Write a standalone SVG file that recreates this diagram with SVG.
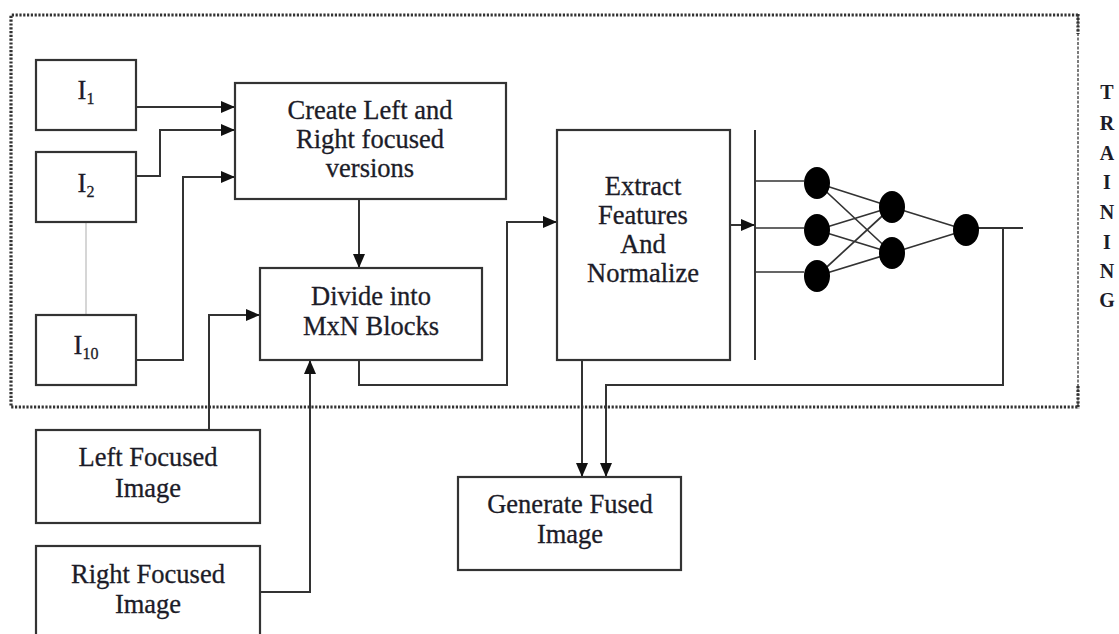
<svg xmlns="http://www.w3.org/2000/svg" width="1119" height="634" viewBox="0 0 1119 634">
  <style>
    .box { fill: #fff; stroke: #333; stroke-width: 2.2; }
    .wire { fill: none; stroke: #333; stroke-width: 2; }
    .thin { fill: none; stroke: #333; stroke-width: 1.7; }
    .lbl { font-family: "Liberation Serif", "Times New Roman", serif; font-size: 26.5px; fill: #1c1c28; stroke: #1c1c28; stroke-width: 0.3; text-anchor: middle; }
    .sub { font-size: 16px; }
    .train { font-family: "Liberation Serif", "Times New Roman", serif; font-size: 20px; font-weight: bold; fill: #1c1c28; text-anchor: middle; }
    .neuron { fill: #000; }
  </style>
  <defs>
    <marker id="arrow" viewBox="0 0 14 12" refX="14" refY="6" markerWidth="14" markerHeight="12" markerUnits="userSpaceOnUse" orient="auto">
      <path d="M0,0 L14,6 L0,12 Z" fill="#111"/>
    </marker>
  </defs>
  <rect width="1119" height="634" fill="#fff"/>

  <!-- training boundary -->
  <g id="training-frame">
    <path d="M1078,15 L11,15 L11,407 L1078,407" fill="none" stroke="#333" stroke-width="3.2" stroke-dasharray="2.2 1.6"/>
    <path d="M1078,15 L1078,407" fill="none" stroke="#444" stroke-width="1.4" stroke-dasharray="3 1.5"/>
    <path d="M1078,14 L1078,34 M1078,386 L1078,409" fill="none" stroke="#333" stroke-width="3.2" stroke-dasharray="2.2 1.6"/>
    <text class="train" x="1107" y="99">T</text>
    <text class="train" x="1107" y="130">R</text>
    <text class="train" x="1107" y="160">A</text>
    <text class="train" x="1107" y="189">I</text>
    <text class="train" x="1107" y="219">N</text>
    <text class="train" x="1107" y="249">I</text>
    <text class="train" x="1107" y="278">N</text>
    <text class="train" x="1107" y="307">G</text>
  </g>

  <!-- connectors -->
  <g id="connectors">
    <line x1="86" y1="222" x2="86" y2="315" stroke="#bbb" stroke-width="1.2"/>
    <path class="wire" d="M136,107 L235,107" marker-end="url(#arrow)"/>
    <path class="wire" d="M136,176 L160,176 L160,130 L235,130" marker-end="url(#arrow)"/>
    <path class="wire" d="M136,360 L183,360 L183,177 L235,177" marker-end="url(#arrow)"/>
    <path class="wire" d="M359,199 L359,268" marker-end="url(#arrow)"/>
    <path class="wire" d="M209,430 L209,315 L260,315" marker-end="url(#arrow)"/>
    <path class="wire" d="M260,592 L310,592 L310,360" marker-end="url(#arrow)"/>
    <path class="wire" d="M359,360 L359,385 L507,385 L507,222 L557,222" marker-end="url(#arrow)"/>
    <path class="wire" d="M730,225 L755,225" marker-end="url(#arrow)"/>
    <path class="wire" d="M582,360 L582,477" marker-end="url(#arrow)"/>
    <path class="wire" d="M1023,228 L966,228 M1003,228 L1003,385 L606,385 L606,477" marker-end="url(#arrow)"/>
  </g>

  <!-- neural network -->
  <g id="network">
    <line class="wire" x1="755" y1="130" x2="755" y2="360"/>
    <path class="thin" d="M755,181 L804,181 M755,228 L804,228 M755,272 L804,272"/>
    <path class="thin" d="M817,183 L892,207 M817,183 L892,253 M817,230 L892,207 M817,230 L892,253 M817,276 L892,207 M817,276 L892,253 M892,207 L966,230 M892,253 L966,230"/>
    <ellipse class="neuron" cx="817" cy="183" rx="13" ry="16"/>
    <ellipse class="neuron" cx="817" cy="230" rx="13" ry="16"/>
    <ellipse class="neuron" cx="817" cy="276" rx="13" ry="16"/>
    <ellipse class="neuron" cx="892" cy="207" rx="13" ry="16"/>
    <ellipse class="neuron" cx="892" cy="253" rx="13" ry="16"/>
    <ellipse class="neuron" cx="966" cy="230" rx="13" ry="16"/>
  </g>

  <g id="node-i1">
    <rect class="box" x="36" y="60" width="100" height="70"/>
    <text class="lbl" x="86" y="99">I<tspan class="sub" dy="5">1</tspan></text>
  </g>
  <g id="node-i2">
    <rect class="box" x="36" y="152" width="100" height="70"/>
    <text class="lbl" x="86" y="192">I<tspan class="sub" dy="5">2</tspan></text>
  </g>
  <g id="node-i10">
    <rect class="box" x="36" y="315" width="100" height="70"/>
    <text class="lbl" x="86" y="354">I<tspan class="sub" dy="5">10</tspan></text>
  </g>
  <g id="node-create">
    <rect class="box" x="235" y="83" width="271" height="116"/>
    <text class="lbl" x="370" y="119">Create Left and</text>
    <text class="lbl" x="370" y="148">Right focused</text>
    <text class="lbl" x="370" y="177">versions</text>
  </g>
  <g id="node-divide">
    <rect class="box" x="260" y="268" width="222" height="92"/>
    <text class="lbl" x="371" y="305">Divide into</text>
    <text class="lbl" x="371" y="335">MxN Blocks</text>
  </g>
  <g id="node-extract">
    <rect class="box" x="557" y="130" width="173" height="230"/>
    <text class="lbl" x="643" y="195">Extract</text>
    <text class="lbl" x="643" y="224">Features</text>
    <text class="lbl" x="643" y="253">And</text>
    <text class="lbl" x="643" y="282">Normalize</text>
  </g>
  <g id="node-left">
    <rect class="box" x="36" y="430" width="224" height="93"/>
    <text class="lbl" x="148" y="466">Left Focused</text>
    <text class="lbl" x="148" y="497">Image</text>
  </g>
  <g id="node-right">
    <rect class="box" x="36" y="546" width="224" height="100"/>
    <text class="lbl" x="148" y="583">Right Focused</text>
    <text class="lbl" x="148" y="613">Image</text>
  </g>
  <g id="node-generate">
    <rect class="box" x="458" y="477" width="223" height="93"/>
    <text class="lbl" x="570" y="513">Generate Fused</text>
    <text class="lbl" x="570" y="543">Image</text>
  </g>
</svg>
